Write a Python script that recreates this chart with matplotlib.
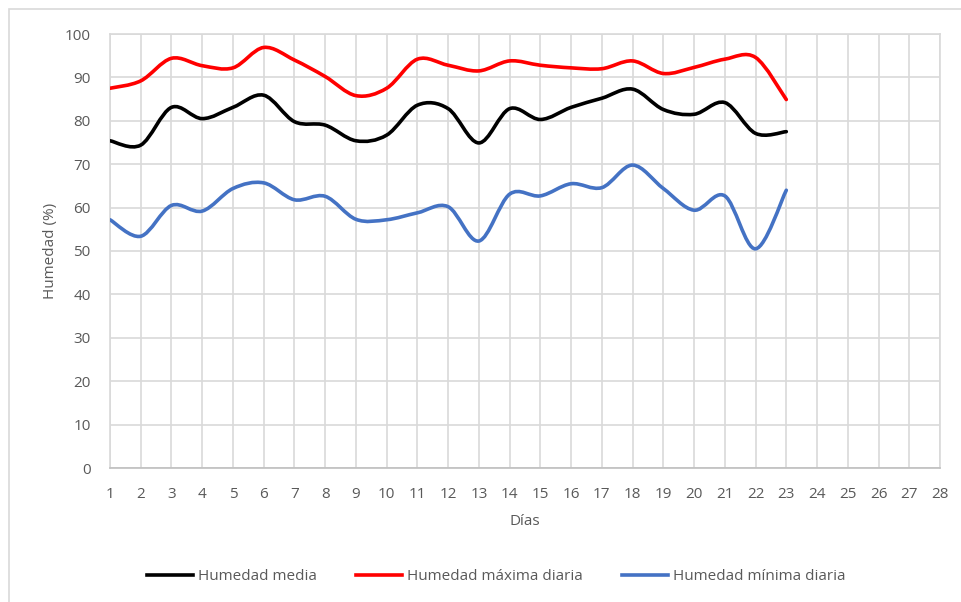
import matplotlib
matplotlib.use("Agg")
import matplotlib.pyplot as plt
from matplotlib.path import Path
from matplotlib.patches import PathPatch, Rectangle
from matplotlib.lines import Line2D

dias = list(range(1, 24))
hum_media = [75.4, 74.4, 83.1, 80.5, 83.1, 85.9, 79.8, 79.0, 75.4, 76.7, 83.6, 82.8,
             74.9, 82.8, 80.3, 83.1, 85.2, 87.3, 82.6, 81.5, 84.2, 77.1, 77.5]
hum_max = [87.5, 89.2, 94.4, 92.7, 92.2, 96.9, 94.0, 90.2, 85.8, 87.5, 94.2, 92.8,
           91.5, 93.8, 92.8, 92.2, 92.0, 93.8, 90.9, 92.3, 94.2, 94.6, 84.9]
hum_min = [57.2, 53.4, 60.5, 59.2, 64.4, 65.7, 61.8, 62.6, 57.3, 57.2, 58.8, 60.2,
           52.3, 63.1, 62.7, 65.5, 64.6, 69.8, 64.4, 59.4, 62.7, 50.5, 64.0]

series = [
    ("Humedad media", hum_media, "#000000"),
    ("Humedad máxima diaria", hum_max, "#ff0000"),
    ("Humedad mínima diaria", hum_min, "#4472c4"),
]

plt.rcParams['font.family'] = ['Open Sans', 'DejaVu Sans']
text_color = '#595959'
grid_color = '#d9d9d9'


def smooth_path(xs, ys):
    """Excel-like smoothed line as cubic Bezier segments."""
    pts = list(zip(xs, ys))
    verts = [pts[0]]
    codes = [Path.MOVETO]
    n = len(pts)
    for i in range(n - 1):
        p0 = pts[i - 1] if i > 0 else pts[i]
        p1 = pts[i]
        p2 = pts[i + 1]
        p3 = pts[i + 2] if i + 2 < n else pts[i + 1]
        c1 = (p1[0] + (p2[0] - p0[0]) / 6, p1[1] + (p2[1] - p0[1]) / 6)
        c2 = (p2[0] - (p3[0] - p1[0]) / 6, p2[1] - (p3[1] - p1[1]) / 6)
        verts += [c1, c2, p2]
        codes += [Path.CURVE4] * 3
    return Path(verts, codes)


fig = plt.figure(figsize=(9.62, 6.02), dpi=100)
ax = fig.add_axes([110 / 962, 1 - 468 / 602, 830 / 962, 434 / 602])

handles = []
for label, values, color in series:
    patch = PathPatch(smooth_path(dias, values), facecolor='none', edgecolor=color,
                      linewidth=2.6, capstyle='round', joinstyle='round', zorder=3)
    ax.add_patch(patch)
    handles.append(Line2D([], [], color=color, linewidth=2.6, label=label))

ax.set_xlim(1, 28)
ax.set_ylim(0, 100)
ax.set_xticks(range(1, 29))
ax.set_yticks(range(0, 101, 10))
ax.grid(True, color=grid_color, linewidth=1.2)
ax.set_axisbelow(True)
for sp in ax.spines.values():
    sp.set_color(grid_color)
    sp.set_linewidth(1.2)
ax.spines['bottom'].set_color('#bfbfbf')
ax.tick_params(length=0, labelsize=11, labelcolor=text_color)
ax.tick_params(axis='x', pad=14)
ax.tick_params(axis='y', pad=14)

ax.set_xlabel('Días', fontsize=11, color=text_color, labelpad=8)
ax.set_ylabel('Humedad (%)', fontsize=11, color=text_color, labelpad=5)

fig.legend(handles=handles, loc='center', bbox_to_anchor=(0.516, 1 - 577 / 602),
           ncol=3, frameon=False, fontsize=11, labelcolor=text_color,
           handlelength=3.0, handletextpad=0.3, columnspacing=2.6)

fig.add_artist(Rectangle((9 / 962, -0.1), 1.2, 1 - 9 / 602 + 0.1,
                         transform=fig.transFigure, fill=False,
                         edgecolor='#d9d9d9', linewidth=1.2))

fig.savefig('out.png', dpi=100)
